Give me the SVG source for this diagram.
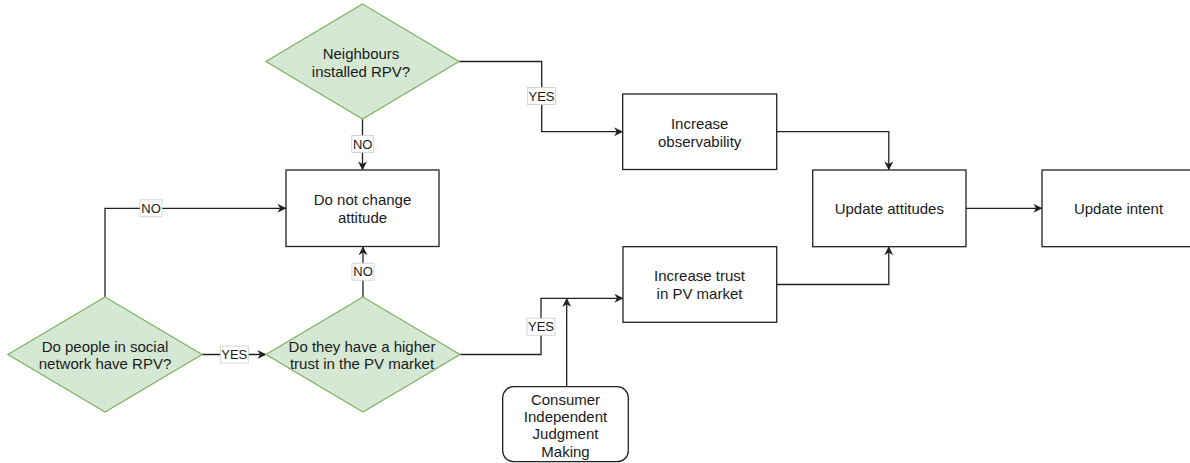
<svg xmlns="http://www.w3.org/2000/svg" width="1190" height="463" viewBox="0 0 1190 463">
  <style>
    .box { fill: #ffffff; stroke: #222222; stroke-width: 1.3; }
    .dec { fill: #d5e8d4; stroke: #82b366; stroke-width: 1.3; }
    .txt { font-family: "Liberation Sans", Arial, sans-serif; font-size: 15px; fill: #1a1a1a; text-anchor: middle; }
    .edge { fill: none; stroke: #222222; stroke-width: 1.3; }
    .lbl-bg { fill: #ffffff; stroke: #cccccc; stroke-width: 0.8; }
    .lbl { font-family: "Liberation Sans", Arial, sans-serif; font-size: 13px; fill: #1a1a1a; text-anchor: middle; }
  </style>
  <defs>
    <marker id="arrow" viewBox="0 0 10 10" refX="9" refY="5" markerWidth="9" markerHeight="9" markerUnits="userSpaceOnUse" orient="auto">
      <path d="M0,0 L10,5 L0,10 L3,5 z" fill="#222222"/>
    </marker>
  </defs>

  <rect width="1190" height="463" fill="#ffffff"/>

  <!-- connectors -->
  <g id="connectors">
    <path class="edge" d="M459,61.5 H541.7 V131.7 H622.2" marker-end="url(#arrow)"/>
    <path class="edge" d="M362.5,119 V169.5" marker-end="url(#arrow)"/>
    <path class="edge" d="M105,297 V208.3 H285.5" marker-end="url(#arrow)"/>
    <path class="edge" d="M202,354.5 H265.5" marker-end="url(#arrow)"/>
    <path class="edge" d="M363,297 V247.2" marker-end="url(#arrow)"/>
    <path class="edge" d="M460,354.5 H541 V298.3 H622.5" marker-end="url(#arrow)"/>
    <path class="edge" d="M566.7,386.7 V298.8" marker-end="url(#arrow)"/>
    <path class="edge" d="M776.7,131.7 H888.8 V169.5" marker-end="url(#arrow)"/>
    <path class="edge" d="M776.7,284.5 H888.8 V247.2" marker-end="url(#arrow)"/>
    <path class="edge" d="M966,208.3 H1041.5" marker-end="url(#arrow)"/>

    <!-- edge labels -->
    <g id="label-yes-1">
      <rect class="lbl-bg" x="527.5" y="87.5" width="28" height="17"/>
      <text class="lbl" x="541.5" y="100.6">YES</text>
    </g>
    <g id="label-no-1">
      <rect class="lbl-bg" x="351.7" y="135.5" width="22" height="17"/>
      <text class="lbl" x="362.7" y="148.6">NO</text>
    </g>
    <g id="label-no-2">
      <rect class="lbl-bg" x="140" y="199.8" width="22" height="17"/>
      <text class="lbl" x="151" y="212.9">NO</text>
    </g>
    <g id="label-yes-2">
      <rect class="lbl-bg" x="220.3" y="346" width="28" height="17"/>
      <text class="lbl" x="234.3" y="359.1">YES</text>
    </g>
    <g id="label-no-3">
      <rect class="lbl-bg" x="352" y="263.2" width="22" height="17"/>
      <text class="lbl" x="363" y="276.3">NO</text>
    </g>
    <g id="label-yes-3">
      <rect class="lbl-bg" x="527" y="318.2" width="28" height="17"/>
      <text class="lbl" x="541" y="331.3">YES</text>
    </g>
  </g>

  <!-- decisions -->
  <g id="neighbours-installed">
    <polygon class="dec" points="362.5,4 459,61.5 362.5,119 266,61.5"/>
    <text class="txt" x="361" y="58.5">Neighbours</text>
    <text class="txt" x="361" y="76.8">installed RPV?</text>
  </g>
  <g id="social-network-rpv">
    <polygon class="dec" points="105,297 202,354.5 105,412 8,354.5"/>
    <text class="txt" x="105" y="351.8">Do people in social</text>
    <text class="txt" x="105" y="369.2">network have RPV?</text>
  </g>
  <g id="higher-trust">
    <polygon class="dec" points="363,297 460,354.5 363,412 266,354.5"/>
    <text class="txt" x="362" y="351.8">Do they have a higher</text>
    <text class="txt" x="362" y="369.2">trust in the PV market</text>
  </g>

  <!-- process boxes -->
  <g id="no-change">
    <rect class="box" x="286" y="170" width="153" height="76.5"/>
    <text class="txt" x="362.5" y="205.3">Do not change</text>
    <text class="txt" x="362.5" y="223.4">attitude</text>
  </g>
  <g id="increase-observability">
    <rect class="box" x="622.7" y="94" width="154" height="75.5"/>
    <text class="txt" x="699.7" y="129.4">Increase</text>
    <text class="txt" x="699.7" y="147.4">observability</text>
  </g>
  <g id="increase-trust">
    <rect class="box" x="623" y="246.7" width="153.7" height="75.6"/>
    <text class="txt" x="699.5" y="281.2">Increase trust</text>
    <text class="txt" x="699.5" y="299">in PV market</text>
  </g>
  <g id="update-attitudes">
    <rect class="box" x="812.7" y="170" width="153.3" height="76.7"/>
    <text class="txt" x="889.3" y="214">Update attitudes</text>
  </g>
  <g id="update-intent">
    <rect class="box" x="1042" y="170" width="153" height="76.7"/>
    <text class="txt" x="1118.5" y="214">Update intent</text>
  </g>
  <g id="consumer-judgment">
    <rect class="box" x="502.7" y="386.7" width="125.6" height="75" rx="11" ry="11"/>
    <text class="txt" x="565.5" y="404.5">Consumer</text>
    <text class="txt" x="565.5" y="421.9">Independent</text>
    <text class="txt" x="565.5" y="439.2">Judgment</text>
    <text class="txt" x="565.5" y="456.6">Making</text>
  </g>
</svg>
